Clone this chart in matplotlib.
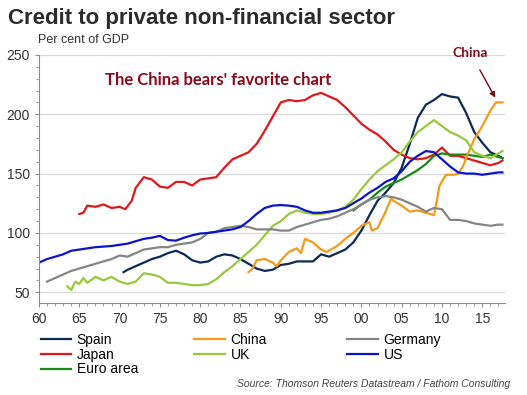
import matplotlib
matplotlib.use("Agg")
import matplotlib.pyplot as plt
from matplotlib.ticker import MultipleLocator, FuncFormatter

# data (per cent of GDP)
spain_yr = [1970.5, 1971, 1972, 1973, 1974, 1975, 1976, 1977, 1978, 1979, 1980, 1981, 1982, 1983, 1984,
            1985, 1986, 1987, 1988, 1989, 1990, 1991, 1992, 1993, 1994, 1995, 1996, 1997, 1998, 1999,
            2000, 2001, 2002, 2003, 2004, 2005, 2006, 2007, 2008, 2009, 2010, 2011, 2012, 2013, 2014,
            2015, 2016, 2017, 2017.5]
spain = [67, 69, 72, 75, 78, 80, 83, 85, 82, 77, 75, 76, 80, 82, 81,
         78, 74, 70, 68, 69, 73, 74, 76, 76, 76, 82, 80, 83, 86, 92,
         102, 115, 127, 134, 142, 155, 175, 197, 208, 212, 217, 215, 214, 201, 185,
         176, 168, 165, 163]

japan_yr = [1965, 1965.5, 1966, 1967, 1968, 1969, 1970, 1970.7, 1971.5, 1972, 1973, 1974, 1975, 1976,
            1977, 1978, 1979, 1980, 1981, 1982, 1983, 1984, 1985, 1986, 1987, 1988, 1989, 1990, 1991,
            1992, 1993, 1994, 1995, 1996, 1997, 1998, 1999, 2000, 2001, 2002, 2003, 2004, 2005, 2006,
            2007, 2008, 2009, 2010, 2011, 2012, 2013, 2014, 2015, 2016, 2017, 2017.5]
japan = [116, 117, 123, 122, 124, 121, 122, 120, 127, 138, 147, 145, 139, 138,
         143, 143, 140, 145, 146, 147, 155, 162, 165, 168, 175, 186, 198, 210, 212,
         211, 212, 216, 218, 215, 212, 206, 199, 192, 187, 183, 177, 170, 166, 163,
         162, 163, 166, 172, 165, 165, 163, 161, 159, 157, 159, 161]

china_yr = [1986, 1986.5, 1987, 1988, 1989, 1989.5, 1990, 1991, 1992, 1992.5, 1993, 1994, 1995, 1995.7,
            1997, 1998, 1999, 2000, 2001, 2001.3, 2002, 2003, 2003.7, 2004, 2005, 2006, 2007, 2008,
            2009, 2009.3, 2009.7, 2010.5, 2011.5, 2012, 2012.6, 2013, 2014, 2015, 2016, 2016.7, 2017.5]
china = [67, 70, 77, 78, 75, 72, 77, 84, 87, 83, 95, 92, 86, 84,
         89, 95, 100, 106, 109, 102, 104, 118, 129, 127, 123, 118, 119, 117,
         115, 125, 140, 149, 149, 150, 156, 163, 179, 190, 203, 210, 210]

uk_yr = [1963.5, 1964, 1964.5, 1965, 1965.5, 1966, 1967, 1968, 1969, 1970, 1971, 1972, 1973, 1974,
         1975, 1976, 1977, 1978, 1979, 1980, 1981, 1982, 1983, 1984, 1985, 1986, 1987, 1988, 1989,
         1990, 1991, 1992, 1993, 1994, 1995, 1996, 1997, 1998, 1999, 2000, 2001, 2002, 2003, 2004,
         2005, 2006, 2007, 2008, 2009, 2010, 2011, 2012, 2013, 2014, 2015, 2016, 2017, 2017.5]
uk = [55, 52, 59, 57, 62, 58, 63, 60, 63, 59, 57, 59, 66, 65,
      63, 58, 58, 57, 56, 56, 57, 61, 67, 72, 78, 84, 90, 98, 106,
      110, 116, 119, 117, 116, 116, 117, 119, 122, 128, 137, 145, 152, 157, 162,
      168, 177, 185, 190, 195, 190, 185, 182, 178, 168, 165, 163, 167, 169]

germany_yr = list(range(1961, 2018)) + [2017.5]
germany = [59, 62, 65, 68, 70, 72, 74, 76, 78, 81, 80, 83, 86, 87, 88, 88, 90, 91, 92, 95,
           100, 101, 104, 105, 106, 105, 103, 103, 103, 102, 102, 105, 107, 109, 111, 112, 114, 117, 120, 124,
           128, 130, 131, 130, 128, 125, 122, 118, 121, 120, 111, 111, 110, 108, 107, 106, 107, 107]

us_yr = list(range(1960, 2018)) + [2017.5]
us = [75, 78, 80, 82, 85, 86, 87, 88, 88.5, 89, 90, 91, 93, 95, 96, 97.5, 94, 93.5, 96, 98,
      99.5, 100, 101, 102, 103, 105, 110, 116, 121, 123, 123.5, 123, 122, 119, 117, 117, 118, 119, 121, 125,
      129, 134, 138, 143, 146, 152, 160, 165, 169, 168, 162, 156, 151, 150, 150, 149, 150, 151, 151]

euro_yr = list(range(1999, 2018)) + [2017.5]
euro = [119, 124, 128, 134, 139, 142, 145, 149, 153, 158, 165, 167, 166, 166, 166, 165, 164, 166, 164, 163]

x_ticks = [1960, 1965, 1970, 1975, 1980, 1985, 1990, 1995, 2000, 2005, 2010, 2015]

plt.rcParams['font.family'] = ['Liberation Sans', 'DejaVu Sans']

fig = plt.figure(figsize=(5.27, 3.95), dpi=100)
ax = fig.add_axes([0.074, 0.233, 0.884, 0.628])

ax.plot(spain_yr, spain, color='#0b2a55', lw=1.6, label='Spain')
ax.plot(japan_yr, japan, color='#e3161b', lw=1.6, label='Japan')
ax.plot(euro_yr, euro, color='#178a18', lw=1.6, label='Euro area')
ax.plot(china_yr, china, color='#f59a17', lw=1.6, label='China')
ax.plot(uk_yr, uk, color='#97c93d', lw=1.6, label='UK')
ax.plot(germany_yr, germany, color='#858585', lw=1.6, label='Germany')
ax.plot(us_yr, us, color='#0a14c8', lw=1.6, label='US')

ax.set_xlim(1960, 2017.8)
ax.set_ylim(41, 250)
ax.set_xticks(x_ticks)
ax.xaxis.set_major_formatter(FuncFormatter(lambda v, p: '%02d' % (int(v) % 100)))
ax.xaxis.set_minor_locator(MultipleLocator(1))
ax.set_yticks([50, 100, 150, 200, 250])
ax.yaxis.set_minor_locator(MultipleLocator(10))
ax.grid(axis='y', color='#d9d9d9', lw=0.9)
ax.set_axisbelow(True)
for s in ['top', 'right']:
    ax.spines[s].set_visible(False)
for s in ['left', 'bottom']:
    ax.spines[s].set_color('#8c8c8c')
ax.tick_params(which='both', colors='#8c8c8c', labelcolor='#333333', labelsize=10)
ax.tick_params(which='major', length=3)
ax.tick_params(which='minor', length=2)

fig.text(0.015, 0.98, 'Credit to private non-financial sector', fontsize=16,
         fontweight='bold', color='#2b2b2b', va='top')
fig.text(0.072, 0.915, 'Per cent of GDP', fontsize=9, color='#333333', va='top')

ax.text(0.384, 0.9, "The China bears' favorite chart", transform=ax.transAxes,
        fontsize=12, fontweight='bold', color='#8b0a1a', ha='center', va='center',
        family=['Lato', 'DejaVu Sans'])
ax.annotate('China', xy=(2016.6, 214), xytext=(2013.5, 252), fontsize=10,
            fontweight='bold', color='#8b0a1a', ha='center', va='center',
            family=['Lato', 'DejaVu Sans'], annotation_clip=False,
            arrowprops=dict(arrowstyle='-|>', color='#7a0a14', lw=1,
                            shrinkA=7, shrinkB=0, mutation_scale=8))

# legend: three fixed-width columns, one legend per column
handles, labels = ax.get_legend_handles_labels()
columns = [(0, 3, 0.077), (3, 5, 0.369), (5, 7, 0.659)]
for i0, i1, xpos in columns:
    leg = fig.legend(handles[i0:i1], labels[i0:i1], loc='upper left',
                     bbox_to_anchor=(xpos, 0.157), ncol=1, frameon=False, fontsize=10,
                     handlelength=2.2, handletextpad=0.4, labelspacing=0.05,
                     borderpad=0, borderaxespad=0)

fig.text(0.968, 0.015, 'Source: Thomson Reuters Datastream / Fathom Consulting',
         fontsize=7.5, style='italic', color='#444444', ha='right', va='bottom')

fig.savefig('out.png', dpi=100)
